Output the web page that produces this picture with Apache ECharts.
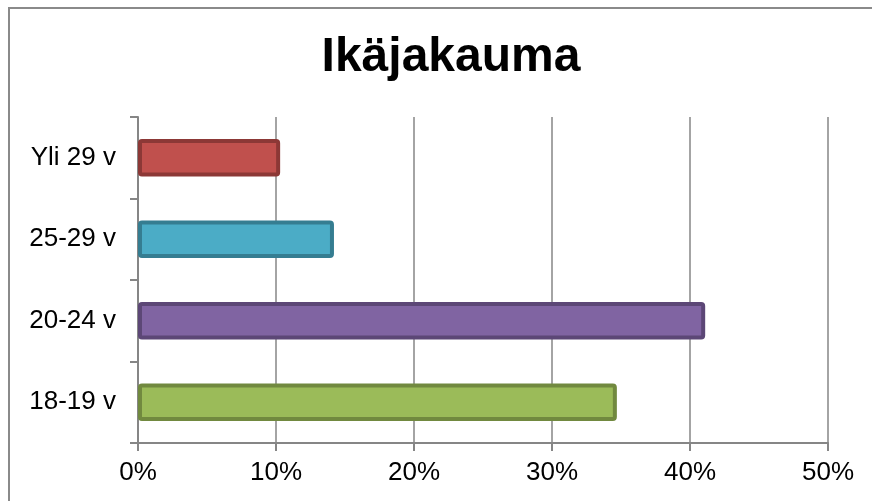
<!DOCTYPE html>
<html>
<head>
<meta charset="utf-8">
<script src="https://cdn.jsdelivr.net/npm/echarts@6/dist/echarts.min.js"></script>
<style>
html,body{margin:0;padding:0;background:#fff;}
#c{width:872px;height:501px;}
</style>
</head>
<body>
<div id="c"></div>
<script>
var categories = ['18-19 v', '20-24 v', '25-29 v', 'Yli 29 v'];
var values = [34.7, 41.1, 14.2, 10.3];
var fillColors = ['#9BBB59', '#8064A2', '#4BACC6', '#C0504D'];
var borderColors = ['#71893F', '#5C4776', '#357D91', '#8C3836'];
var xTicks = { min: 0, max: 50, interval: 10 };

var chart = echarts.init(document.getElementById('c'), null, { renderer: 'canvas' });
var font = 'Liberation Sans, Arial, sans-serif';
chart.setOption({
  animation: false,
  backgroundColor: '#fff',
  graphic: [{
    type: 'rect',
    shape: { x: 9, y: 8, width: 900, height: 600 },
    style: { fill: 'none', stroke: '#8a8a8a', lineWidth: 2 },
    silent: true
  }],
  title: {
    text: 'Ikäjakauma',
    left: 446,
    textAlign: 'center',
    top: 29,
    textStyle: { fontFamily: font, fontSize: 48, fontWeight: 'bold', color: '#000' }
  },
  grid: { left: 138, right: 44, top: 117, bottom: 58, containLabel: false },
  xAxis: {
    type: 'value',
    min: xTicks.min, max: xTicks.max, interval: xTicks.interval,
    axisLine: { show: true, lineStyle: { color: '#868686', width: 2 } },
    axisTick: { show: true, length: 8, lineStyle: { color: '#868686', width: 2 } },
    splitLine: { show: true, lineStyle: { color: '#868686', width: 1.5 } },
    axisLabel: { formatter: '{value}%', fontFamily: font, fontSize: 26, color: '#000', margin: 17 }
  },
  yAxis: {
    type: 'category',
    data: categories,
    axisLine: { show: true, lineStyle: { color: '#868686', width: 2 } },
    axisTick: { show: true, length: 8, lineStyle: { color: '#868686', width: 2 } },
    axisLabel: { fontFamily: font, fontSize: 26, color: '#000', margin: 22 }
  },
  series: [{
    type: 'bar',
    barCategoryGap: '54%',
    data: values.map(function (v, i) {
      return {
        value: v,
        itemStyle: { color: fillColors[i], borderColor: borderColors[i], borderWidth: 4, borderRadius: 2 }
      };
    })
  }]
});
</script>
</body>
</html>
